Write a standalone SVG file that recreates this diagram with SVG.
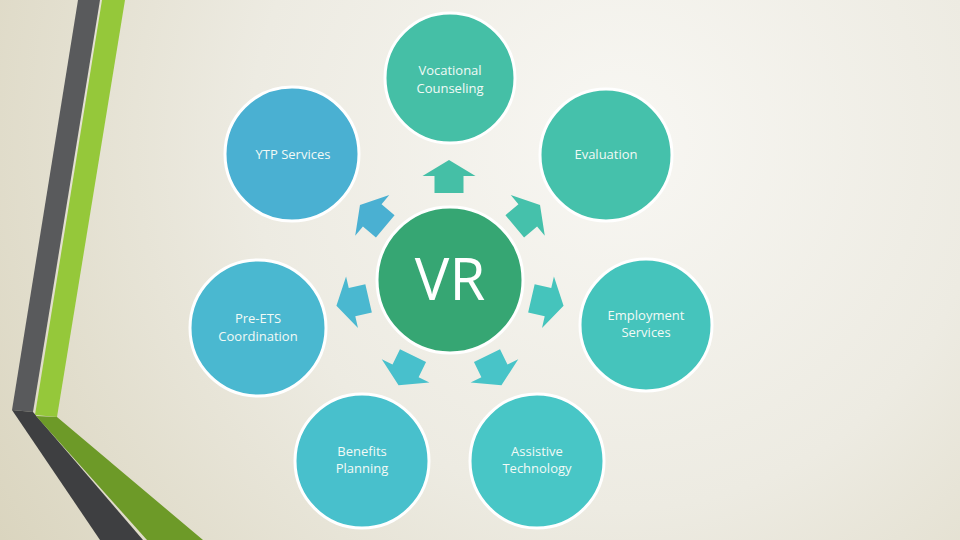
<svg xmlns="http://www.w3.org/2000/svg" xmlns:xlink="http://www.w3.org/1999/xlink" width="960" height="540" viewBox="0 0 960 540">
<defs>
<radialGradient id="bg" cx="620" cy="140" r="820" gradientUnits="userSpaceOnUse">
<stop offset="0" stop-color="#f8f7f3"/>
<stop offset="0.45" stop-color="#edebe2"/>
<stop offset="1" stop-color="#d6d0b7"/>
</radialGradient>
<path id="arr" d="M0,-17 L26.5,-1 L14.5,-1 L14.5,16 L-14.5,16 L-14.5,-1 L-26.5,-1 Z"/>
<style>
.node circle{stroke:#ffffff;stroke-width:3}
.lbl{font-family:"Open Sans","Noto Sans",sans-serif;font-size:13px;fill:#f2faf6;text-anchor:middle}
</style>
</defs>
<rect width="960" height="540" fill="url(#bg)"/>
<g id="decoration">
<polygon points="78,0 100,0 33,412 12,410" fill="#595a5c"/>
<polygon points="12,410 33,412 143,540 100,540" fill="#3e3f41"/>
<polygon points="102,0 125,0 57,417 35,415" fill="#95c83a"/>
<polygon points="36,416 57,417 203,540 147,540" fill="#6d9a28"/>
</g>
<g id="connectors">
<use xlink:href="#arr" href="#arr" fill="#45bfa6" transform="translate(449,177)"/>
<use xlink:href="#arr" href="#arr" fill="#45c1ab" transform="translate(527,216) rotate(50)"/>
<use xlink:href="#arr" href="#arr" fill="#45c4bc" transform="translate(547,302) rotate(103)"/>
<use xlink:href="#arr" href="#arr" fill="#48c4c8" transform="translate(494,370) rotate(154)"/>
<use xlink:href="#arr" href="#arr" fill="#48c0cc" transform="translate(406,370) rotate(-154)"/>
<use xlink:href="#arr" href="#arr" fill="#4ab8d0" transform="translate(353,302) rotate(-103)"/>
<use xlink:href="#arr" href="#arr" fill="#4ab0d2" transform="translate(373,216) rotate(-50)"/>
</g>
<g id="vr" class="node">
<circle cx="450" cy="280" r="73" fill="#36a673"/>
<text x="450" y="300" text-anchor="middle" font-family="'Open Sans','Noto Sans',sans-serif" font-size="58" fill="#ffffff">VR</text>
</g>
<g id="vocational" class="node">
<circle cx="450" cy="78" r="65" fill="#45bfa6"/>
<text class="lbl" x="450" y="75">Vocational</text>
<text class="lbl" x="450" y="93">Counseling</text>
</g>
<g id="evaluation" class="node">
<circle cx="606" cy="155" r="66" fill="#45c1ab"/>
<text class="lbl" x="606" y="159">Evaluation</text>
</g>
<g id="ytp" class="node">
<circle cx="292" cy="154" r="67" fill="#4ab0d2"/>
<text class="lbl" x="293" y="159">YTP Services</text>
</g>
<g id="preets" class="node">
<circle cx="258" cy="328" r="68" fill="#4ab8d0"/>
<text class="lbl" x="258" y="323">Pre-ETS</text>
<text class="lbl" x="258" y="341">Coordination</text>
</g>
<g id="employment" class="node">
<circle cx="646" cy="325" r="66" fill="#45c4bc"/>
<text class="lbl" x="646" y="320">Employment</text>
<text class="lbl" x="646" y="337">Services</text>
</g>
<g id="benefits" class="node">
<circle cx="362" cy="461" r="67" fill="#48c0cc"/>
<text class="lbl" x="362" y="456">Benefits</text>
<text class="lbl" x="362" y="473">Planning</text>
</g>
<g id="assistive" class="node">
<circle cx="537" cy="461" r="67" fill="#48c6c6"/>
<text class="lbl" x="537" y="456">Assistive</text>
<text class="lbl" x="537" y="473">Technology</text>
</g>
</svg>
